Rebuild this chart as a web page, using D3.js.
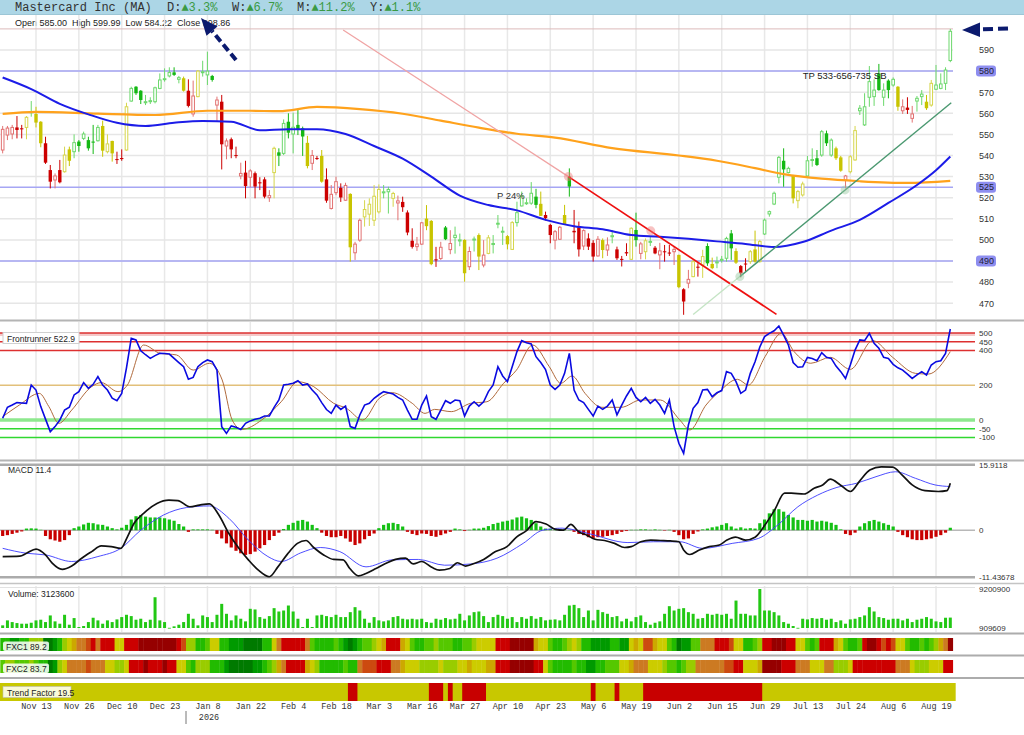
<!DOCTYPE html>
<html>
<head>
<meta charset="utf-8">
<script src="https://cdn.jsdelivr.net/npm/d3@7"></script>
<style>
  body { margin: 0; background: #fff; }
  svg { display: block; font-family: "Liberation Sans", Arial, sans-serif; }
</style>
</head>
<body>
<svg id="chart" width="1024" height="735"></svg>
<script>
"use strict";

// ---- data ----
var tickLabels = ["Nov 13","Nov 26","Dec 10","Dec 23","Jan 8","Jan 22","Feb 4","Feb 18","Mar 3","Mar 16","Mar 27",
  "Apr 10","Apr 23","May 6","May 19","Jun 2","Jun 15","Jun 29","Jul 13","Jul 24","Aug 6","Aug 19"];

var opens = [
  542.6,549.7,550.2,553.3,552.9,553.3,560.3,559.7,556.0,545.8,
  533.1,528.4,533.1,532.3,542.9,541.8,546.6,548.1,547.3,546.6,
  547.0,554.0,541.8,546.9,538.3,538.8,542.6,565.8,572.6,570.7,
  565.0,565.5,565.5,571.8,576.1,577.7,579.4,576.1,576.6,570.7,
  559.7,567.9,579.3,578.2,577.7,563.9,565.5,544.5,547.7,540.2,
  530.3,531.9,529.7,531.6,527.3,528.7,520.0,531.9,541.5,541.0,
  556.0,550.2,554.5,552.9,546.0,536.3,538.8,539.8,528.7,514.9,
  522.4,524.7,518.8,521.8,493.9,499.9,510.9,512.2,509.3,513.3,
  522.3,522.8,519.7,517.5,518.0,513.0,499.6,496.8,498.0,510.1,
  509.0,490.8,491.2,505.9,495.4,501.1,499.5,500.0,487.3,500.0,
  502.3,488.1,493.6,497.8,507.5,503.7,501.8,495.5,508.2,516.1,
  517.2,517.4,520.5,517.1,511.8,507.1,499.9,500.3,511.8,530.0,
  504.3,506.0,497.1,500.7,498.6,492.4,499.9,495.2,501.5,495.5,
  491.0,494.2,490.8,504.7,493.6,494.4,498.9,496.3,492.9,494.6,
  494.0,494.4,492.9,476.6,479.5,482.6,487.3,488.1,497.1,488.6,
  489.1,490.3,491.3,503.1,494.7,487.6,488.8,489.7,495.5,489.7,
  502.8,512.3,517.0,529.7,537.5,531.9,530.3,518.6,521.3,530.3,
  537.7,538.7,540.2,550.5,540.2,543.4,539.1,528.4,532.3,537.9,
  561.2,554.5,567.6,567.9,578.9,567.6,575.5,573.4,572.6,561.2,
  562.7,557.6,565.8,567.9,565.5,563.9,571.4,571.8,574.2,585.00];

var highs = [
  554.0,554.0,554.5,558.7,554.5,558.7,565.8,563.1,556.3,548.9,
  535.5,531.5,537.9,544.2,544.2,550.0,547.3,551.3,548.9,554.5,
  554.5,556.5,550.0,547.0,541.8,542.9,565.0,572.6,572.9,571.0,
  568.7,567.6,572.6,578.9,581.3,581.8,581.8,577.7,577.4,576.1,
  575.5,580.5,584.9,589.2,578.2,567.9,568.7,548.1,548.5,544.2,
  536.6,537.5,533.5,532.4,529.7,529.7,523.6,544.2,543.4,557.1,
  560.0,560.3,561.6,553.7,549.3,542.6,539.8,542.6,533.9,526.0,
  530.0,526.8,527.1,522.1,499.1,510.1,518.8,519.7,526.0,526.3,
  526.0,525.2,522.8,521.0,520.5,514.0,505.5,501.4,508.5,516.5,
  509.4,496.7,499.1,506.6,504.6,506.3,503.0,500.3,496.8,501.6,
  503.1,499.9,502.3,502.3,511.8,506.3,502.3,508.9,518.1,522.9,
  519.7,527.4,524.2,522.9,513.4,507.6,504.7,506.6,516.6,533.9,
  514.2,508.7,505.0,503.1,499.9,501.8,500.7,501.2,504.7,496.8,
  492.4,498.4,506.0,512.9,499.1,500.7,501.8,497.1,498.6,497.6,
  497.6,497.0,493.0,477.1,485.8,490.5,488.9,495.3,498.4,491.6,
  492.1,492.4,501.5,504.7,496.0,488.1,491.3,495.2,504.4,500.0,
  510.2,513.9,522.9,539.8,543.4,534.7,530.8,523.7,527.6,539.8,
  543.4,542.6,552.1,551.8,548.1,544.2,539.8,530.8,540.2,554.0,
  563.9,569.5,582.4,576.1,583.4,574.2,576.1,577.0,572.9,566.6,
  567.6,563.5,568.2,571.0,568.7,575.8,582.9,578.9,581.8,599.99];

var lows = [
  541.0,547.3,547.7,548.1,548.1,547.7,558.4,553.3,543.9,536.0,
  524.4,524.4,526.8,531.9,535.0,538.7,541.8,547.3,542.3,540.7,
  546.6,539.4,541.0,537.1,536.0,537.5,542.3,565.5,568.7,564.4,
  563.9,564.4,564.7,571.4,575.0,577.0,577.7,574.2,570.3,562.8,
  558.4,567.6,577.4,573.4,575.0,556.0,533.4,538.2,538.7,538.7,
  528.7,519.7,524.9,519.7,523.6,519.7,518.0,519.7,535.0,540.2,
  548.1,541.0,549.7,539.8,533.9,533.1,537.9,527.1,517.6,514.4,
  521.2,518.0,518.5,489.7,490.5,499.1,506.3,506.6,506.6,512.5,
  519.7,512.5,515.7,509.3,513.3,502.2,495.9,494.8,497.6,504.6,
  488.0,487.2,490.5,499.9,493.2,493.5,497.0,480.2,485.7,494.5,
  485.7,487.0,493.2,493.6,505.5,497.6,495.5,495.2,506.3,515.8,
  516.6,516.6,515.0,511.4,509.2,498.4,495.5,500.0,507.5,520.5,
  498.4,492.1,495.2,495.2,489.7,492.1,491.3,492.4,498.4,490.5,
  487.4,492.4,490.5,496.8,490.8,490.8,497.1,493.2,486.1,489.7,
  492.4,488.1,477.1,464.5,477.1,482.3,482.6,482.0,487.7,486.1,
  486.6,489.2,489.7,490.5,488.6,482.3,485.0,488.6,489.2,489.2,
  502.3,511.0,516.5,526.8,525.2,531.5,517.3,515.0,520.5,530.0,
  534.7,535.0,539.4,544.5,539.4,537.9,532.3,524.4,531.5,537.5,
  559.2,554.0,563.1,563.5,570.7,563.5,567.1,572.6,561.2,559.7,
  559.7,555.6,560.8,563.9,561.6,563.1,571.0,571.4,571.0,584.22];

var closes = [
  552.4,553.0,553.3,552.1,552.4,558.1,560.8,555.6,545.8,536.6,
  527.6,530.3,527.3,540.2,537.5,546.1,544.5,550.2,543.4,546.1,
  553.3,542.3,545.5,541.0,537.9,538.3,563.1,571.8,569.5,566.3,
  565.5,566.0,572.1,575.8,576.4,579.3,578.2,576.9,570.7,563.5,
  568.2,580.0,579.7,580.0,575.8,566.3,545.3,546.9,542.9,539.8,
  531.5,525.5,532.7,525.3,526.8,520.5,521.0,543.4,539.9,555.2,
  550.8,553.4,552.1,549.0,535.0,540.0,538.4,527.6,518.6,521.6,
  527.6,520.1,525.8,496.5,498.0,509.3,514.4,516.9,520.7,523.9,
  522.8,523.9,522.0,518.5,515.5,503.5,496.7,498.0,508.1,506.5,
  488.5,490.3,496.5,500.3,498.3,502.2,500.0,484.2,494.5,500.4,
  492.1,492.8,501.0,498.3,507.9,504.1,497.9,508.2,512.9,520.8,
  517.6,522.1,516.6,511.4,510.3,502.3,503.9,506.0,507.5,525.3,
  503.6,495.5,504.4,496.8,492.1,500.3,495.2,497.6,502.0,491.3,
  490.6,493.6,505.5,499.9,498.1,499.6,499.3,493.6,494.8,494.2,
  493.6,495.5,477.6,470.8,481.3,489.7,486.8,492.1,488.9,486.6,
  489.6,490.8,500.7,496.0,489.2,484.2,488.4,494.4,489.7,499.2,
  509.4,513.4,522.1,539.1,533.4,533.9,519.7,522.9,526.5,537.5,
  538.1,535.5,551.3,545.8,547.3,538.7,532.8,530.3,539.4,551.8,
  562.4,563.1,575.0,571.0,571.0,571.0,571.0,576.1,563.1,563.1,
  561.6,559.7,567.1,569.1,562.4,574.2,573.4,573.9,580.5,598.86];

// g = green, y = yellow, r = red candle colouring
var candleColors = ("rrrrrygyyr" + "rrryyggggg" + "gyyyrryggg" + "ggggggggyr" + "rygggrrrrr" +
  "rrrrrrrygg" + "ggggyrryrr" + "rrryrryyyy" + "ggyrrrrrry" + "yrrgrggyrg" +
  "yrygggyygg" + "gggyrrrryg" + "rrrrrryrgr" + "rrygrygrrr" + "rryrryrygy" +
  "ggggyrryyy" + "ggggggyyyg" + "gggggyyryy" + "ggggggggyr" + "rrggyygggg").split("");

// moving averages: [bar, price]
var ma50Pts = [[0,577],[6,571.5],[12,564.5],[18,559.5],[24,555.5],[30,554],[36,555.5],[42,556.4],[48,556],
  [54,552],[60,552.5],[66,552.5],[72,550.2],[78,544.5],[84,538.5],[90,530],[96,521],[102,516.5],[108,514],
  [114,509.5],[120,506.5],[126,505],[132,502.3],[138,501.5],[144,500.5],[150,499.3],[156,498.1],[162,496.6],
  [168,499],[174,504.4],[180,509.5],[186,517.5],[192,526],[196,533],[199,539.5]];
var ma200Pts = [[0,559.7],[7,560.7],[20,559.8],[32,559.2],[43,561.2],[52,561.2],[58,561],[66,563],[75,562],
  [84,559.8],[92,556.5],[100,553.2],[108,550.3],[116,548.5],[128,543.5],[142,540],[150,537.5],[158,534],
  [164,531.2],[172,529],[180,527.8],[190,527],[199,528]];

var priceTicks = [470,480,500,510,520,530,540,550,560,570,590];
var priceLevels = [580, 525, 490];
var redTrendPts = [[71.5,599.5],[118.8,530],[162.5,464.7]];
var greenTrendPts = [[145,464.6],[154.8,482.6],[199.2,565]];
var touchPts = [[118.8,530,"r"],[136.1,504.3,"r"],[154.8,482.6,"g"],[176.9,523.7,"g"]];

var osc = [10,73,86,100,98,96,201,172,77,5,
  -67,-38,0,57,73,144,163,215,182,205,
  249,201,172,125,111,153,300,469,460,398,
  375,354,370,383,382,379,354,330,306,234,
  245,306,330,345,335,287,-38,-77,-34,-42,
  -54,-19,-5,4,10,23,23,73,115,201,
  205,211,226,201,207,172,144,100,60,38,
  86,61,80,-38,-48,29,86,96,125,145,
  163,157,149,130,115,57,4,4,86,138,
  19,4,57,111,96,115,111,23,80,105,
  80,105,163,201,306,253,220,306,393,456,
  444,437,364,330,290,201,176,201,268,383,
  172,115,100,61,23,80,61,80,115,29,
  86,138,182,130,105,130,96,119,86,38,
  115,-38,-134,-192,-29,67,100,172,176,134,
  157,169,278,268,220,153,172,268,335,420,
  479,498,513,540,488,431,330,303,306,360,
  354,341,387,360,354,310,278,239,316,402,
  460,456,498,441,412,360,354,320,300,287,
  264,239,259,278,259,316,335,341,383,522.9];
var oscSignalPts = [[0,19],[3.5,86],[7.7,153],[9.7,77],[11.8,-19],[14.5,57],[18.7,192],[20.7,215],[24.2,163],
  [26.2,201],[29.6,431],[33.1,383],[36.5,374],[40,287],[43.4,326],[46.1,230],[48.2,0],[50.2,-54],[54.4,0],
  [58.5,105],[62,220],[65.3,192],[69.5,96],[72.2,67],[75.6,0],[79.1,125],[81.8,157],[86,96],[88.7,38],
  [90.7,61],[94.2,48],[98.3,96],[101.7,105],[105.2,211],[107.9,287],[111.3,431],[114.8,306],[117.2,211],
  [119.6,253],[122.3,153],[125.8,73],[129.9,73],[134,115],[138.1,115],[142.2,0],[144.3,-57],[147.7,86],
  [150.5,163],[154.3,234],[156.6,201],[160.1,364],[163.5,498],[166.2,393],[169.7,326],[173.8,360],[178,291],
  [182.7,456],[186.9,360],[191.7,268],[194.4,264],[199,393]];
var oscLevels = [500, 450, 400, 200, 0, -50, -100];

var macdPts = [[0,-6.4],[3.6,-6.3],[5,-5.6],[7,-4.6],[9,-6.0],[10.4,-8.0],[12.5,-9.5],[14.5,-8.7],[16.6,-6.8],
  [18.7,-5.2],[20.7,-3.8],[22.8,-4.0],[24.8,-4.4],[26.2,-1.6],[27.6,1.7],[29.6,4.1],[32.4,6.5],[34.9,7.3],
  [36.8,7.2],[39.3,5.7],[41.3,6.1],[43.4,6.4],[45.4,3.7],[47.5,-0.8],[49.6,-4.4],[51.6,-7.2],[53.7,-9.7],
  [56,-11.3],[57.8,-8.9],[59.8,-5.8],[61.9,-3.2],[63.7,-2.5],[65.3,-4.2],[67.4,-6.0],[69.5,-7.1],[71.5,-7.2],
  [72.9,-9.3],[74.7,-11.1],[76.3,-10.5],[78.4,-9.3],[80.4,-8.1],[82.5,-7.1],[84.6,-6.8],[86.2,-8.2],[88,-7.6],
  [90.1,-9.0],[91.7,-9.7],[93.9,-9.3],[95.5,-7.9],[97.2,-8.7],[99,-8.1],[101,-7.1],[103.5,-5.2],[105.9,-4.0],
  [107.9,-1.7],[110,-0.1],[112,2.1],[114.1,1.5],[116.1,0.2],[117.8,0.0],[119.3,1.4],[121,-0.4],[122.7,-1.2],
  [124.4,-2.2],[126.4,-2.5],[128.5,-3.2],[130.6,-4.2],[132,-4.0],[134,-2.8],[136.1,-2.4],[138.1,-2.5],
  [140.2,-2.6],[142,-2.8],[143,-4.8],[144.3,-5.9],[146.3,-4.8],[148.4,-4.0],[150.5,-3.6],[152.1,-2.4],
  [153.9,-1.7],[156,-2.4],[158,-1.7],[160.1,1.3],[162.1,4.9],[164.2,9.0],[165.6,9.0],[168.3,8.8],[170.4,10.2],
  [172.2,11.0],[173.8,12.4],[175.9,11.0],[178,9.4],[180,12.0],[182.1,14.6],[184.5,15.4],[186.9,15.3],
  [188.9,13.4],[191,11.0],[193.7,9.6],[196.5,9.4],[198.3,9.6],[199,11.4]];
var macdSignalPts = [[0,-4.4],[5,-5.6],[9,-6.0],[14.5,-7.6],[20,-6.4],[24.8,-4.4],[29,0],[33.8,3.7],[38.6,5.5],
  [43.4,5.9],[47.5,2.9],[51.6,-2.4],[55.7,-6.4],[58.5,-7.6],[62.6,-5.5],[66.7,-4.2],[70.8,-5.2],[76.3,-8.9],
  [81.8,-7.2],[87.3,-7.1],[92.8,-8.5],[98.3,-8.2],[103.8,-6.8],[109.3,-3.2],[113.4,0],[117.5,0.5],[123,-0.8],
  [131.3,-3.0],[136.7,-2.8],[142.2,-2.8],[147,-4.4],[153.2,-3.2],[158.7,-2.0],[162.8,1.3],[167,5.7],[171.1,8.5],
  [175.2,10.4],[179.3,11.4],[183.4,13.0],[187.5,14.2],[191.7,12.6],[195.8,11.0],[199,10.6]];
var macdHist = [-1.4,-1.2,-0.9,-0.6,-0.3,0.4,0.45,0.4,0.1,-1.4,
  -2.2,-2.5,-2.8,-2.4,-1.2,0.5,0.9,1.4,1.8,1.7,
  1.4,1.3,0.9,0.5,0.2,0.6,1.3,2.6,3.4,3.7,
  3.3,3.1,3.1,3.1,2.9,2.6,2.3,1.5,0.9,-0.4,
  0.2,0.2,0.2,0.2,0.1,-0.9,-2.0,-3.2,-4.2,-5.0,
  -5.6,-6.0,-5.8,-5.2,-4.4,-3.6,-2.4,-1.4,-0.6,0.3,
  1.3,1.8,2.3,2.5,2.1,1.3,0.5,-0.6,-1.4,-1.7,
  -1.7,-1.4,-2.0,-2.8,-3.6,-3.2,-2.2,-1.4,-0.8,0.5,
  1.3,1.7,1.8,1.5,0.9,-0.4,-0.9,-1.2,-0.8,-0.9,
  -1.4,-1.6,-1.2,-0.8,-0.4,0.4,0.2,-0.2,0.1,0.4,
  0.4,0.6,1.0,1.5,1.8,2.1,2.3,2.6,3.1,3.3,
  2.9,2.5,1.7,0.9,0.4,0.3,0.2,0.1,0.2,0.1,
  -0.4,-0.9,-1.2,-1.7,-2.0,-1.7,-1.6,-1.4,-1.2,-0.9,
  -0.4,-0.2,0.1,0.1,0.2,0.2,0.1,0.2,0.1,-0.1,
  0.1,-0.4,-1.2,-2.2,-2.0,-0.9,-0.3,0.2,0.4,0.7,
  0.9,1.3,1.7,0.9,0.4,0.7,0.4,0.5,0.4,1.7,
  2.6,4.1,5.1,5.1,4.5,3.7,3.1,2.5,2.5,2.3,
  2.5,2.1,2.3,2.1,1.8,1.3,0.2,-0.9,-1.2,-0.6,
  0.9,1.7,2.2,2.5,2.1,1.7,1.3,0.9,-0.4,-1.2,
  -1.7,-2.2,-2.4,-2.4,-2.2,-2.0,-1.6,-1.2,-0.6,0.6];
var macdRange = [-11.43678, 15.9118];

// volume in millions of shares
var volumeM = [1.47,2.53,2.17,1.96,1.82,1.82,2.03,2.53,2.67,2.17,
  3.58,2.32,1.82,3.72,1.61,3.02,1.12,1.33,2.17,3.09,
  2.53,1.82,2.53,2.17,2.74,3.23,3.72,3.44,2.67,2.88,
  2.17,2.67,7.45,2.53,2.17,0.95,1.26,1.61,2.17,3.93,
  2.88,1.47,3.58,3.23,2.17,3.72,6.04,3.93,2.53,3.58,
  2.88,2.32,4.99,4.85,3.23,2.88,3.44,5.13,4.42,4.63,
  5.69,4.42,2.88,1.12,2.88,1.12,3.58,3.72,3.44,3.23,
  3.72,3.23,3.23,4.28,5.34,4.63,2.88,2.03,3.23,2.53,
  2.32,2.53,3.23,3.44,2.88,2.74,2.88,2.74,2.88,2.17,
  2.03,2.88,2.67,3.02,2.74,2.88,3.93,2.53,3.58,4.28,
  4.42,3.44,2.17,3.23,3.72,3.44,2.88,3.23,2.17,3.23,
  2.88,3.44,2.88,3.23,2.53,2.67,2.74,2.53,3.72,5.69,
  5.83,5.13,3.23,4.63,2.53,4.77,4.28,3.93,3.23,3.44,
  2.32,2.88,2.32,3.23,3.58,2.17,1.61,2.03,2.32,3.93,
  5.55,4.63,4.99,5.13,4.28,3.93,2.88,3.02,3.93,3.72,
  3.93,3.72,3.93,2.88,6.74,3.93,3.93,3.58,3.58,9.20,
  4.63,4.63,4.28,3.58,2.17,1.82,1.33,0.95,2.88,2.74,
  3.02,2.88,3.02,2.67,2.88,2.17,2.53,1.82,2.74,2.88,
  3.23,3.58,5.34,4.42,3.23,3.02,2.67,2.88,2.88,2.53,
  2.88,2.17,2.67,2.88,3.23,2.88,2.32,2.17,3.09,3.1236];
var volumeRange = [0.909609, 9.2009];

var fxc1 = [15,20,10,8,15,20, 30,35,30, 5,5,8, 20,35, 45,55, 60,62, 70, 80, 65,78, 80,82, 45,42, 80,84,
  85,88,90,92, 95,95,94,93,90, 82,70, 35,30, 20,18,22, 45,40, 20,15, 12,10,8, 5,4,5,6, 15,20, 45, 65,75,
  82,85,84,80, 62, 25,20, 18,15,20,22,18, 8,6,10, 18,22,25,30, 45,50, 82,85,80, 48,42, 25,20,18,22,
  28,30,25,22, 28,20,18,22,25, 35,40,45,38,42, 78,82,85, 92,95,96,94,92, 50,45,40, 22,18,20,25,
  35,40,30, 18,15, 8,10,12,12, 20,18, 8,10, 40,48,45, 72,68, 50,45,42, 22,18, 6,8,10, 22,28, 60,65,62,
  82,85, 75,68, 45,40, 20,18,22,30, 82,85, 92,94, 90,85,82, 45,40, 22,18,25, 80,84,78, 48,42,
  22,18,20,25, 85,92,90,84, 72,78,70, 45,40, 25,20,18,22, 20,25,30, 50,62, 89.2];
var fxc2 = [25,30,35,28,22,25,30,22,18,15, 6,8, 30,40, 62,65,60,64,66,62,60,58, 45,42, 35,30,38,
  80,84,86,88,85,84,86,88,84,80, 45,40, 22,20, 32,35,30, 20,18,15, 8,6,5,4,5,6,8,10, 18,22,35, 48,60,
  82,85,84,80, 55,45,30, 20,18,15,18,20,22,18,20, 65,70,72,68, 80,82,78, 62,60,55, 45,42,
  38,35,32,30,35,38,32,30,35, 42,45,48,44, 40,45,50,55, 80,82,85,88, 92,94,90,88,85,80, 45,
  25,20,18,15,20,22,18,15, 12,10,15,18,22,25,28, 40,45,48, 60,62,58, 45,42,40, 30,25,22,20,25,30,35,
  60,62, 65,62,60,64,66,68, 80,78, 45,40,42,48, 90,94,92,88,85, 82,80, 65,62,60, 45,42,40, 62,65,
  35,30,32,38, 80,84,86,84,82,80, 82,78,75, 62,60,58, 40,35,30,32,38,42,45, 78,83.7];
// bars (inclusive) where Trend Factor is red
var trendRedRanges = [[73,74],[90,92],[94,94],[97,101],[124,124],[129,129],[135,159]];
var changes = [["D:","3.3%"],["W:","6.7%"],["M:","11.2%"],["Y:","1.1%"]];

// ---- drawing ----
var svg = d3.select("#chart");
var last = closes.length - 1;
var x = d3.scaleLinear().domain([0, 199]).range([2.67, 950.3]);
var step = x(1) - x(0);
var plotRight = 953, lineRight = 975;
var tickIdx = tickLabels.map(function(d, k){ return 7 + 9 * k; });
var mono = "'Liberation Mono', 'DejaVu Sans Mono', monospace";

function hline(g, y, x1, x2, color, w){
  g.append("line").attr("x1", x1).attr("x2", x2).attr("y1", y).attr("y2", y)
    .attr("stroke", color).attr("stroke-width", w);
}
function vgrid(g, y1, y2){
  g.selectAll(null).data(tickIdx).enter().append("line")
    .attr("x1", function(d){ return x(d); }).attr("x2", function(d){ return x(d); })
    .attr("y1", y1).attr("y2", y2).attr("stroke", "#e8e8e8").attr("stroke-width", 1.5);
}
function clip(id, x0, y0, w, h){
  svg.append("clipPath").attr("id", id).append("rect")
    .attr("x", x0).attr("y", y0).attr("width", w).attr("height", h);
}

// header
svg.append("rect").attr("x", 0).attr("y", 0).attr("width", 1024).attr("height", 14).attr("fill", "#acd6e6");
hline(svg, 14.5, 0, 1024, "#9cc6d6", 1);
var head = svg.append("text").attr("y", 11).style("font-family", mono).style("font-size", "12px").attr("fill", "#333");
head.append("tspan").attr("x", 15).text("Mastercard Inc (MA)");
var chX = [167, 232, 297, 370];
changes.forEach(function(c, k){
  head.append("tspan").attr("x", chX[k]).text(c[0]);
  head.append("tspan").attr("fill", "#3a9a44").text("\u25B2" + c[1]);
});

svg.append("text").attr("x", 15).attr("y", 26).style("font-size", "9px").attr("fill", "#222")
  .attr("xml:space", "preserve")
  .text("Open " + opens[last].toFixed(2) + "  High " + highs[last].toFixed(2) + "  Low " + lows[last].toFixed(2) +
        "  Close " + closes[last].toFixed(2));

// ---- price panel ----
var yP = d3.scaleLinear().domain([470, 590]).range([303.2, 50]);
clip("clipP", 0, 15, plotRight, 304);
var gP = svg.append("g");
vgrid(gP, 15, 319);
d3.range(470, 601, 10).forEach(function(v){
  hline(gP, yP(v), 0, plotRight, v === 600 ? "#dcbaba" : "#e6e6e6", v === 600 ? 1 : 1.5);
});
priceLevels.forEach(function(v){ hline(gP, yP(v), 0, plotRight, "#a6a6f4", 1.5); });

var pc = gP.append("g").attr("clip-path", "url(#clipP)");
var palette = {
  g: {fill: "#14b814", line: "#6cd86c"},
  y: {fill: "#c8c400", line: "#d6d64c"},
  r: {fill: "#cc0000", line: "#e27272"}
};
var bars = d3.range(closes.length).map(function(i){
  return {i: i, o: opens[i], h: highs[i], l: lows[i], c: closes[i], col: palette[candleColors[i]]};
});
var cg = pc.selectAll(".candle").data(bars).enter().append("g").attr("class", "candle");
cg.append("line")
  .attr("x1", function(d){ return x(d.i); }).attr("x2", function(d){ return x(d.i); })
  .attr("y1", function(d){ return yP(d.h); }).attr("y2", function(d){ return yP(d.l); })
  .attr("stroke", function(d){ return d.c >= d.o ? d.col.line : d.col.fill; })
  .attr("stroke-width", 1);
cg.append("rect")
  .attr("x", function(d){ return d.c >= d.o ? x(d.i) - 1.3 : x(d.i) - 1.7; })
  .attr("width", function(d){ return d.c >= d.o ? 2.6 : 3.4; })
  .attr("y", function(d){ return yP(Math.max(d.o, d.c)); })
  .attr("height", function(d){ return Math.max(1, Math.abs(yP(d.o) - yP(d.c))); })
  .attr("fill", function(d){ return d.c >= d.o ? "#fff" : d.col.fill; })
  .attr("stroke", function(d){ return d.c >= d.o ? d.col.line : "none"; })
  .attr("stroke-width", 1);

var maLine = d3.line().x(function(d){ return x(d[0]); }).y(function(d){ return yP(d[1]); }).curve(d3.curveMonotoneX);
pc.append("path").attr("d", maLine(ma200Pts)).attr("fill", "none").attr("stroke", "#ffa21c").attr("stroke-width", 2.2);
pc.append("path").attr("d", maLine(ma50Pts)).attr("fill", "none").attr("stroke", "#1c1ce8").attr("stroke-width", 2);

var seg = d3.line().x(function(d){ return x(d[0]); }).y(function(d){ return yP(d[1]); });
pc.append("path").attr("d", seg(redTrendPts.slice(0, 2))).attr("stroke", "#f0a4a4").attr("stroke-width", 1.3).attr("fill", "none");
pc.append("path").attr("d", seg(redTrendPts.slice(1))).attr("stroke", "#ee1010").attr("stroke-width", 1.7).attr("fill", "none");
pc.append("path").attr("d", seg(greenTrendPts.slice(0, 2))).attr("stroke", "#c4e4c4").attr("stroke-width", 1.3).attr("fill", "none");
pc.append("path").attr("d", seg(greenTrendPts.slice(1))).attr("stroke", "#4a9870").attr("stroke-width", 1.4).attr("fill", "none");
pc.selectAll(".touch").data(touchPts).enter().append("circle")
  .attr("cx", function(d){ return x(d[0]); }).attr("cy", function(d){ return yP(d[1]); }).attr("r", 4.5)
  .attr("fill", function(d){ return d[2] === "r" ? "rgba(240,120,120,0.45)" : "rgba(150,200,160,0.45)"; });

gP.append("text").attr("x", x(103.8)).attr("y", yP(519.6)).style("font-size", "9.5px").attr("fill", "#333").text("P 24%");
gP.append("text").attr("x", x(168)).attr("y", yP(576.4)).style("font-size", "9.5px").attr("fill", "#222").text("TP 533-656-735 SB");

var axP = svg.append("g").attr("transform", "translate(979,0)")
  .call(d3.axisRight(yP).tickValues(priceTicks).tickSize(0).tickPadding(0).tickFormat(d3.format("d")));
axP.select(".domain").remove();
axP.selectAll("text").style("font-size", "9px").style("font-family", "'Liberation Sans', Arial, sans-serif").attr("fill", "#333");
priceLevels.forEach(function(v){
  svg.append("rect").attr("x", 976).attr("y", yP(v) - 5.5).attr("width", 20).attr("height", 11).attr("rx", 3)
    .attr("fill", "#8e8ef0");
  svg.append("text").attr("x", 979).attr("y", yP(v) + 3.2).style("font-size", "9px").attr("fill", "#223").text(v);
});

hline(svg, 320.5, 0, 1024, "#b4b4b4", 2);

// ---- Frontrunner oscillator ----
var yO = d3.scaleLinear().domain([0, 500]).range([420, 333]);
var gO = svg.append("g");
clip("clipO", 0, 321, plotRight, 138);
vgrid(gO, 322, 459);
hline(gO, yO(500) + 1.5, 0, lineRight, "#f4c8c8", 3);
var oscColor = {"500": "#dd3030", "450": "#dd3030", "400": "#dd3030", "200": "#e2c07a", "0": "#8ee88e", "-50": "#30d830", "-100": "#30d830"};
oscLevels.forEach(function(v){ hline(gO, yO(v), 0, lineRight, oscColor[v], v === 0 ? 3.5 : 1.5); });
var oc = gO.append("g").attr("clip-path", "url(#clipO)");
oc.append("path").attr("d", d3.line().x(function(d){ return x(d[0]); }).y(function(d){ return yO(d[1]); }).curve(d3.curveMonotoneX)(oscSignalPts))
  .attr("fill", "none").attr("stroke", "#b06a3c").attr("stroke-width", 1);
oc.append("path").attr("d", d3.line().x(function(d, i){ return x(i); }).y(function(d){ return yO(d); })(osc))
  .attr("fill", "none").attr("stroke", "#0a0ae0").attr("stroke-width", 1.6);
var axO = svg.append("g").attr("transform", "translate(979,0)")
  .call(d3.axisRight(yO).tickValues(oscLevels).tickSize(0).tickPadding(0));
axO.select(".domain").remove();
axO.selectAll("text").style("font-size", "8px").style("font-family", "'Liberation Sans', Arial, sans-serif").attr("fill", "#333")
  .text(function(d){ return String(d); });
gO.append("rect").attr("x", 3).attr("y", 332.5).attr("width", 76).attr("height", 11).attr("fill", "#fff").attr("stroke", "#d0d0d0");
gO.append("text").attr("x", 7).attr("y", 341.5).style("font-size", "8.5px").attr("fill", "#222")
  .text("Frontrunner " + osc[last].toFixed(1));

hline(svg, 460.5, 0, 1024, "#b4b4b4", 2);

// ---- MACD ----
var yM = d3.scaleLinear().domain(macdRange).range([577.3, 464.7]);
var gM = svg.append("g");
clip("clipM", 0, 462, plotRight, 118);
vgrid(gM, 466, 576);
hline(gM, yM(macdRange[1]), 0, lineRight, "#ababab", 2.5);
hline(gM, yM(macdRange[0]), 0, lineRight, "#ababab", 2.5);
hline(gM, yM(0), 0, lineRight, "#b8b8b8", 1.5);
var mc = gM.append("g").attr("clip-path", "url(#clipM)");
mc.selectAll(".hist").data(macdHist).enter().append("rect")
  .attr("x", function(d, i){ return x(i) - 1.6; }).attr("width", 3.2)
  .attr("y", function(d){ return d >= 0 ? yM(d) : yM(0); })
  .attr("height", function(d){ return Math.abs(yM(d) - yM(0)); })
  .attr("fill", function(d){ return d >= 0 ? "#14c014" : "#c80000"; });
var mline = d3.line().x(function(d){ return x(d[0]); }).y(function(d){ return yM(d[1]); }).curve(d3.curveMonotoneX);
mc.append("path").attr("d", mline(macdSignalPts)).attr("fill", "none").attr("stroke", "#3a3aff").attr("stroke-width", 0.9);
mc.append("path").attr("d", mline(macdPts)).attr("fill", "none").attr("stroke", "#111").attr("stroke-width", 1.7);
[[macdRange[1], "15.9118"], [0, "0"], [macdRange[0], "-11.43678"]].forEach(function(t){
  gM.append("text").attr("x", 979).attr("y", yM(t[0]) + 3).style("font-size", "8px").attr("fill", "#333").text(t[1]);
});
gM.append("text").attr("x", 8).attr("y", 473).style("font-size", "8.5px").attr("fill", "#222")
  .text("MACD " + macdPts[macdPts.length - 1][1].toFixed(1));

hline(svg, 583.5, 0, 1024, "#c4c4c4", 1.5);

// ---- volume ----
var yV = d3.scaleLinear().domain(volumeRange).range([628, 589]);
var gV = svg.append("g");
vgrid(gV, 586, 632);
hline(gV, 587.5, 0, lineRight, "#e2e2e2", 1);
gV.selectAll(".vol").data(volumeM).enter().append("rect")
  .attr("x", function(d, i){ return x(i) - 1.5; }).attr("width", 3)
  .attr("y", function(d){ return yV(d); })
  .attr("height", function(d){ return Math.max(0.8, 628 - yV(d)); })
  .attr("fill", "#22c814");
gV.append("text").attr("x", 979).attr("y", 592).style("font-size", "8px").attr("fill", "#333").text(d3.format("d")(volumeRange[1] * 1e6));
gV.append("text").attr("x", 979).attr("y", 631).style("font-size", "8px").attr("fill", "#333").text(d3.format("d")(volumeRange[0] * 1e6));
gV.append("text").attr("x", 8).attr("y", 597).style("font-size", "8.5px").attr("fill", "#222")
  .text("Volume: " + d3.format("d")(Math.round(volumeM[last] * 1e6)));

hline(svg, 633.5, 0, 1024, "#acacac", 2);

// ---- FXC heat strips ----
var heat = d3.scaleThreshold()
  .domain([8, 15, 22, 30, 38, 48, 58, 66, 75, 87])
  .range(["#007a00", "#009a00", "#22bb00", "#55c800", "#99cc00", "#cccc00", "#cca800", "#cc7a22", "#cc4a10", "#cc0000", "#960000"]);
function strip(vals, y0, h, label){
  var g = svg.append("g");
  g.selectAll("rect").data(vals).enter().append("rect")
    .attr("x", function(d, i){ return x(i) - step / 2; }).attr("width", step + 0.4)
    .attr("y", y0).attr("height", h).attr("fill", function(d){ return heat(d); });
  g.append("rect").attr("x", 3).attr("y", y0 + h - 9.5).attr("width", 46).attr("height", 9.5).attr("rx", 2)
    .attr("fill", "rgba(255,255,255,0.85)");
  g.append("text").attr("x", 6).attr("y", y0 + h - 1.5).style("font-size", "8.5px").attr("fill", "#222").text(label);
}
strip(fxc1, 638, 13, "FXC1 " + fxc1[fxc1.length - 1].toFixed(1));
hline(svg, 655.5, 0, 1024, "#acacac", 2);
strip(fxc2, 660, 13, "FXC2 " + fxc2[fxc2.length - 1].toFixed(1));
hline(svg, 678, 0, 1024, "#acacac", 2);

// ---- Trend Factor ----
var gT = svg.append("g");
gT.append("rect").attr("x", x(0) - step / 2 - 3).attr("width", x(last) + step / 2 + 3 - (x(0) - step / 2 - 3))
  .attr("y", 683).attr("height", 18).attr("fill", "#c8c800");
gT.selectAll(".tr").data(trendRedRanges).enter().append("rect")
  .attr("x", function(d){ return x(d[0]) - step / 2; })
  .attr("width", function(d){ return x(d[1]) - x(d[0]) + step; })
  .attr("y", 683).attr("height", 18).attr("fill", "#c80000");
gT.append("rect").attr("x", 3).attr("y", 686.5).attr("width", 68).attr("height", 11).attr("fill", "rgba(255,255,240,0.9)")
  .attr("stroke", "#bbb").attr("stroke-width", 0.6);
gT.append("text").attr("x", 7).attr("y", 695.5).style("font-size", "8.5px").attr("fill", "#222").text("Trend Factor 19.5");

// ---- date axis ----
var axX = svg.append("g").attr("transform", "translate(0,701)")
  .call(d3.axisBottom(x).tickValues(tickIdx).tickSize(0).tickPadding(2)
    .tickFormat(function(d, k){ return tickLabels[k]; }));
axX.select(".domain").remove();
axX.selectAll("text").style("font-family", mono).style("font-size", "8.5px").attr("fill", "#333");
var yearX = x(38.5);
svg.append("line").attr("x1", yearX).attr("x2", yearX).attr("y1", 711).attr("y2", 724).attr("stroke", "#777").attr("stroke-width", 1);
svg.append("text").attr("x", yearX + 23).attr("y", 720).attr("text-anchor", "middle")
  .style("font-family", mono).style("font-size", "8.5px").attr("fill", "#333").text("2026");

// ---- annotation arrows ----
var navy = "#0b1a6e";
svg.append("line").attr("x1", 236).attr("y1", 60).attr("x2", 212).attr("y2", 31)
  .attr("stroke", navy).attr("stroke-width", 4).attr("stroke-dasharray", "8,4");
svg.append("polygon").attr("points", "201,18 217.5,26.5 206.5,35.8").attr("fill", navy);
svg.append("line").attr("x1", 1008).attr("y1", 28.5).attr("x2", 978).attr("y2", 29.5)
  .attr("stroke", navy).attr("stroke-width", 4).attr("stroke-dasharray", "10,5");
svg.append("polygon").attr("points", "962,30 980,22.5 980,37").attr("fill", navy);
</script>
</body>
</html>
